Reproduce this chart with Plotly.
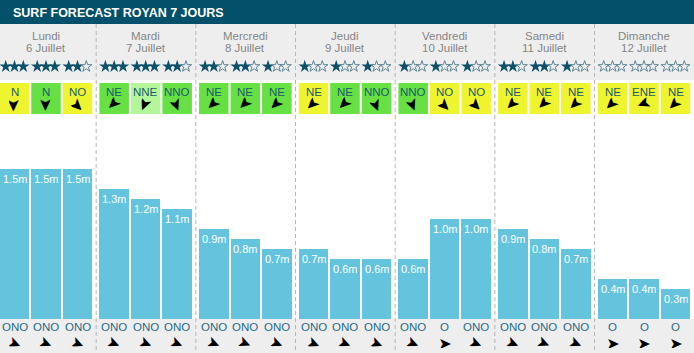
import plotly.graph_objects as go

# ---------------- data ----------------
days = ["Lundi", "Mardi", "Mercredi", "Jeudi", "Vendredi", "Samedi", "Dimanche"]
dates = ["6 Juillet", "7 Juillet", "8 Juillet", "9 Juillet", "10 Juillet", "11 Juillet", "12 Juillet"]
stars = [[3, 3, 2], [3, 3, 2], [2, 2, 1], [1, 1, 1], [1, 1, 1], [2, 2, 1], [0, 0, 0]]
wind_dir = [["N", "N", "NO"], ["NE", "NNE", "NNO"], ["NE", "NE", "NE"], ["NE", "NE", "NNO"],
            ["NNO", "NO", "NO"], ["NE", "NE", "NE"], ["NE", "ENE", "NE"]]
wind_cls = [["y", "g", "y"], ["g", "l", "g"], ["g", "g", "g"], ["y", "g", "g"],
            ["g", "y", "y"], ["y", "y", "y"], ["y", "y", "y"]]
heights = [[1.5, 1.5, 1.5], [1.3, 1.2, 1.1], [0.9, 0.8, 0.7], [0.7, 0.6, 0.6],
           [0.6, 1.0, 1.0], [0.9, 0.8, 0.7], [0.4, 0.4, 0.3]]
swell_dir = [["ONO", "ONO", "ONO"], ["ONO", "ONO", "ONO"], ["ONO", "ONO", "ONO"], ["ONO", "ONO", "ONO"],
             ["ONO", "O", "ONO"], ["ONO", "ONO", "ONO"], ["O", "O", "O"]]
title = "SURF FORECAST ROYAN 7 JOURS"

# ---------------- styling / layout helpers ----------------
W, H = 694, 353
BASE = 319            # pixel row of bar base
PX_PER_M = 100
DAY_STEP = 99.67
SLOT_STEP = 31.5
FIRST_C = 14.5
BAR_W = 29.5

HEADER_C = "#03506a"
GRAY_BG = "#eeeeee"
BAR_C = "#64c4de"
STAR_C = "#0c5169"
BOX_C = {"y": "#eef52f", "g": "#66e043", "l": "#b4f79b"}
DIR_TXT = "#1b5b6c"
SWELL_TXT = "#1f6c8a"
FONT = "Liberation Sans, Arial, sans-serif"
ARROW = "\u27a4"

DEG = {"N": 0, "NNE": 22.5, "NE": 45, "ENE": 67.5, "E": 90, "ESE": 112.5, "SE": 135, "SSE": 157.5,
       "S": 180, "SSO": 202.5, "SO": 225, "OSO": 247.5, "O": 270, "ONO": 292.5, "NO": 315, "NNO": 337.5}


def Y(py):
    return (BASE - py) / PX_PER_M


def center(d, s):
    return FIRST_C + DAY_STEP * d + SLOT_STEP * s


def txt(x, py, text, size, color, h=None, angle=0, family=FONT, w=None):
    a = dict(x=x, y=Y(py), xref="x", yref="y", text=text, showarrow=False,
             xanchor="center", yanchor="middle", textangle=angle,
             font=dict(family=family, size=size, color=color))
    if h:
        a["height"] = h
    if w:
        a["width"] = w
    return a


fig = go.Figure()

shapes = []
shapes.append(dict(type="rect", xref="x", yref="y", x0=0, x1=W, y0=Y(0), y1=Y(24),
                   fillcolor=HEADER_C, line_width=0, layer="below"))
shapes.append(dict(type="rect", xref="x", yref="y", x0=0, x1=W, y0=Y(24), y1=Y(80),
                   fillcolor=GRAY_BG, line_width=0, layer="below"))
shapes.append(dict(type="rect", xref="x", yref="y", x0=0, x1=W, y0=Y(BASE), y1=Y(H),
                   fillcolor=GRAY_BG, line_width=0, layer="below"))
for d in range(1, len(days)):
    xs = DAY_STEP * d - 3.5
    shapes.append(dict(type="line", xref="x", yref="y", x0=xs, x1=xs, y0=Y(24), y1=Y(H),
                       line=dict(color="#b5b5b5", width=1, dash="4px,3px"), layer="above"))

annotations = [dict(x=11, y=Y(12.5), xref="x", yref="y", text="<b>" + title + "</b>", showarrow=False,
                    xanchor="left", yanchor="middle", font=dict(family=FONT, size=12.5, color="white"))]

bx, by = [], []
sx_f, sy_f, sx_o, sy_o = [], [], [], []

for d in range(len(days)):
    cday = center(d, 1)
    annotations.append(txt(cday, 35.5, days[d], 11.5, "#858585", h=11))
    annotations.append(txt(cday, 47.5, dates[d], 11.5, "#858585", h=11))
    for s in range(3):
        c = center(d, s)
        h = heights[d][s]
        bx.append(c)
        by.append(h)
        annotations.append(dict(x=c, y=h, xref="x", yref="y", text=f"{h}m", showarrow=False,
                                xanchor="center", yanchor="top", yshift=-2, height=11,
                                font=dict(family=FONT, size=11, color="white")))
        for k in range(3):
            xs = c + (k - 1) * 8.8
            if k < stars[d][s]:
                sx_f.append(xs); sy_f.append(Y(66.5))
            else:
                sx_o.append(xs); sy_o.append(Y(66.5))
        shapes.append(dict(type="rect", xref="x", yref="y", x0=c - BAR_W / 2, x1=c + BAR_W / 2,
                           y0=Y(83), y1=Y(114), fillcolor=BOX_C[wind_cls[d][s]], line_width=0, layer="below"))
        annotations.append(txt(c, 92, wind_dir[d][s], 11.5, DIR_TXT, h=10))
        ang = (DEG[wind_dir[d][s]] + 180) % 360 - 90
        annotations.append(txt(c, 104.5, ARROW, 17, "black", h=10, w=12, angle=ang, family="DejaVu Sans"))
        annotations.append(txt(c, 327, swell_dir[d][s], 11.5, SWELL_TXT, h=10))
        ang2 = (DEG[swell_dir[d][s]] + 180) % 360 - 90
        annotations.append(txt(c, 342.5, ARROW, 16, "black", h=10, w=12, angle=ang2, family="DejaVu Sans"))

fig.add_trace(go.Bar(x=bx, y=by, width=BAR_W, marker=dict(color=BAR_C, line_width=0), hoverinfo="skip"))
fig.add_trace(go.Scatter(x=sx_f, y=sy_f, mode="markers", hoverinfo="skip",
                         marker=dict(symbol="star", size=9.5, color=STAR_C, line_width=0)))
fig.add_trace(go.Scatter(x=sx_o, y=sy_o, mode="markers", hoverinfo="skip",
                         marker=dict(symbol="star-open", size=8.5, color="#5f8796",
                                     line=dict(width=1, color="#5f8796"))))

fig.update_layout(
    width=W, height=H, margin=dict(l=0, r=0, t=0, b=0),
    paper_bgcolor="white", plot_bgcolor="white", showlegend=False,
    xaxis=dict(range=[0, W], visible=False, fixedrange=True),
    yaxis=dict(range=[Y(H), Y(0)], visible=False, fixedrange=True),
    shapes=shapes, annotations=annotations, bargap=0, hovermode=False,
)

fig.write_html("out.html", config={"displayModeBar": False})
